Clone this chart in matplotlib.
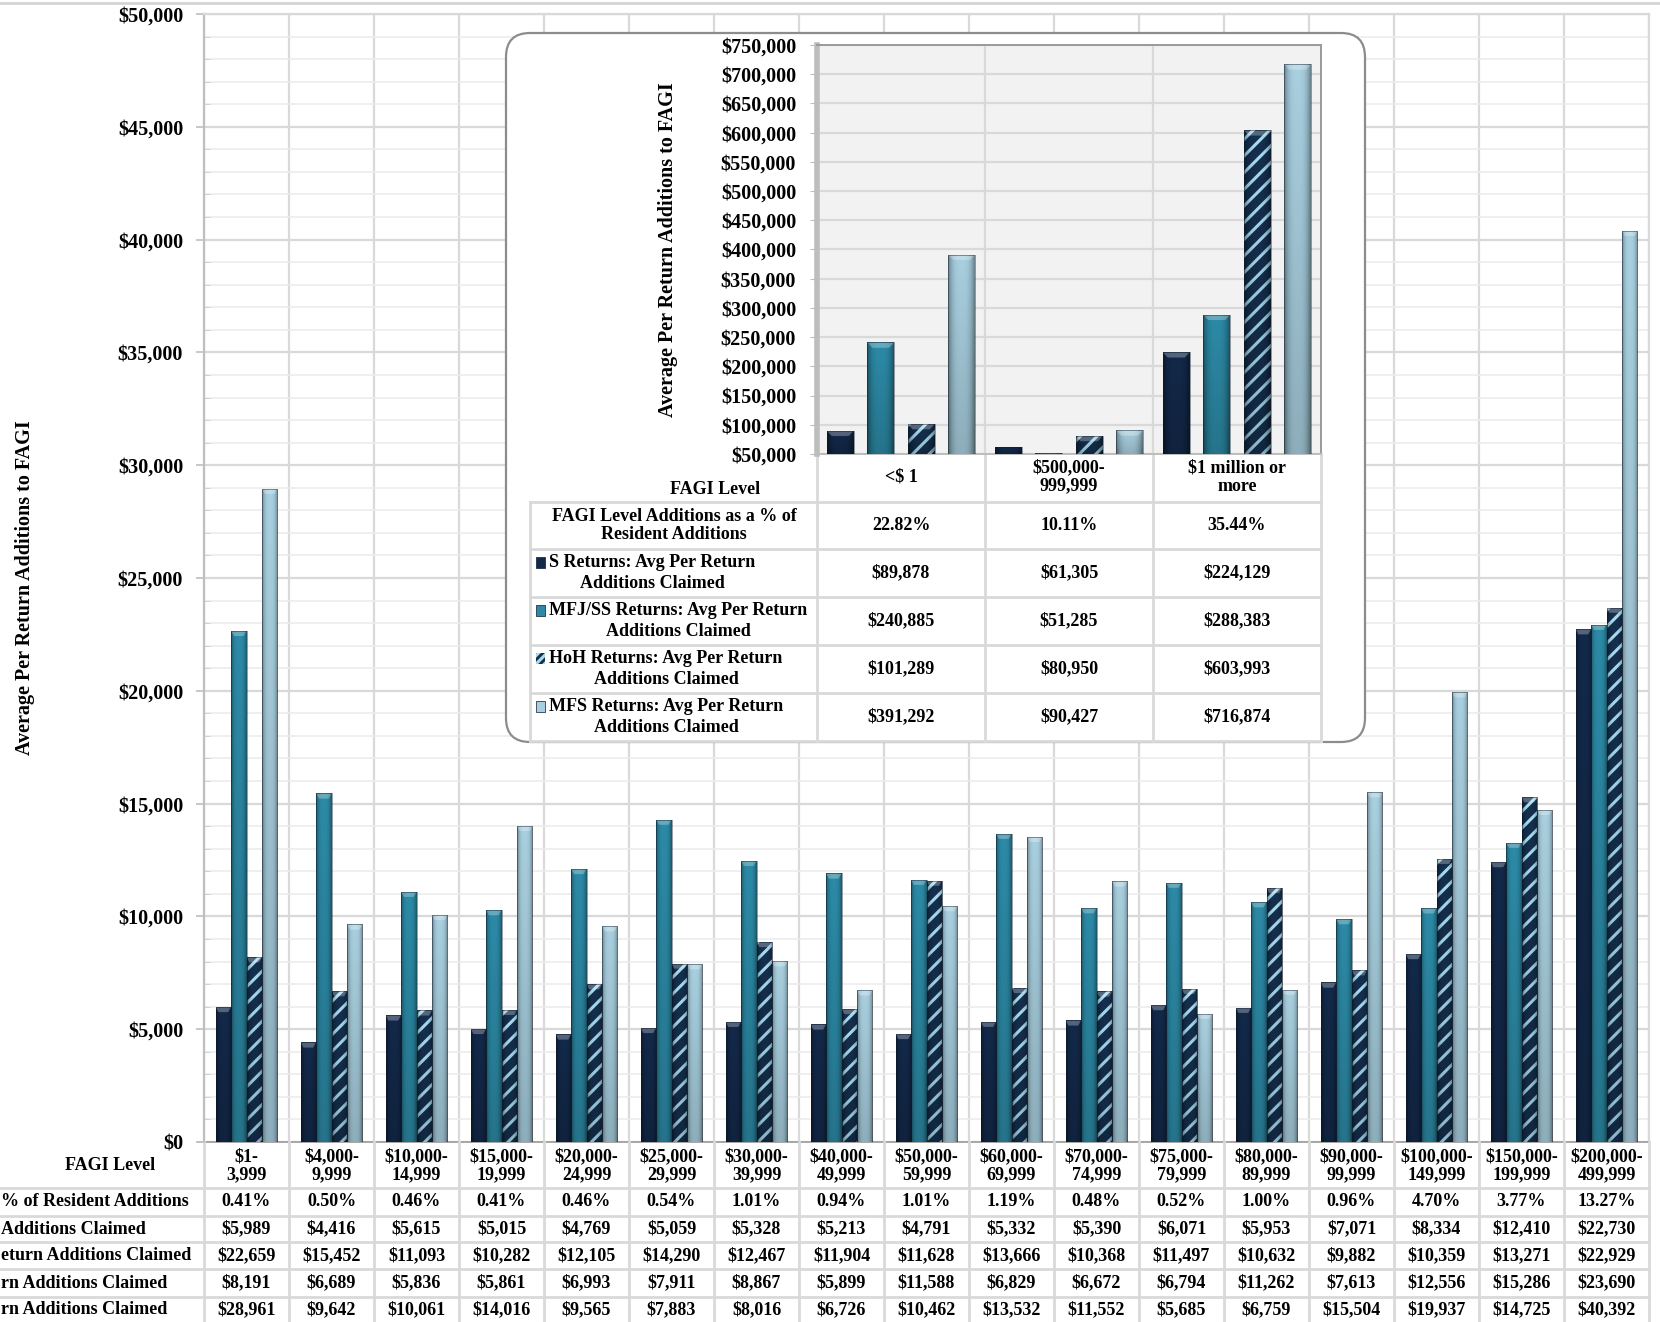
import numpy as np
import matplotlib
matplotlib.use('Agg')
import matplotlib.pyplot as plt
from matplotlib.patches import FancyBboxPatch, Rectangle, Polygon
from matplotlib.ticker import MultipleLocator, FuncFormatter

plt.rcParams['font.family'] = ['Liberation Serif', 'DejaVu Serif']
plt.rcParams['font.weight'] = 'bold'
plt.rcParams['text.parse_math'] = False
plt.rcParams['hatch.linewidth'] = 2.2

# ---- data: main chart (resident returns by FAGI level) ----
fagi_levels = ['$1-\n3,999', '$4,000-\n9,999', '$10,000-\n14,999', '$15,000-\n19,999',
               '$20,000-\n24,999', '$25,000-\n29,999', '$30,000-\n39,999', '$40,000-\n49,999',
               '$50,000-\n59,999', '$60,000-\n69,999', '$70,000-\n74,999', '$75,000-\n79,999',
               '$80,000-\n89,999', '$90,000-\n99,999', '$100,000-\n149,999', '$150,000-\n199,999',
               '$200,000-\n499,999']
pct_of_additions = [0.41, 0.50, 0.46, 0.41, 0.46, 0.54, 1.01, 0.94, 1.01, 1.19, 0.48, 0.52,
                    1.00, 0.96, 4.70, 3.77, 13.27]
s_returns = [5989, 4416, 5615, 5015, 4769, 5059, 5328, 5213, 4791, 5332, 5390, 6071, 5953,
             7071, 8334, 12410, 22730]
mfj_returns = [22659, 15452, 11093, 10282, 12105, 14290, 12467, 11904, 11628, 13666, 10368,
               11497, 10632, 9882, 10359, 13271, 22929]
hoh_returns = [8191, 6689, 5836, 5861, 6993, 7911, 8867, 5899, 11588, 6829, 6672, 6794, 11262,
               7613, 12556, 15286, 23690]
mfs_returns = [28961, 9642, 10061, 14016, 9565, 7883, 8016, 6726, 10462, 13532, 11552, 5685,
               6759, 15504, 19937, 14725, 40392]
# row labels as they show at the cropped left edge of the picture
row_labels_visible = ['% of Resident Additions', 'Additions Claimed', 'eturn Additions Claimed',
                      'rn Additions Claimed', 'rn Additions Claimed']

# ---- data: inset chart ----
inset_levels = ['<$ 1', '$500,000-\n999,999', '$1 million or\nmore']
inset_pct = [22.82, 10.11, 35.44]
inset_s = [89878, 61305, 224129]
inset_mfj = [240885, 51285, 288383]
inset_hoh = [101289, 80950, 603993]
inset_mfs = [391292, 90427, 716874]
inset_row_labels = [('FAGI Level Additions as a % of', 'Resident Additions'),
                    ('S Returns: Avg Per Return', 'Additions Claimed'),
                    ('MFJ/SS Returns: Avg Per Return', 'Additions Claimed'),
                    ('HoH Returns: Avg Per Return', 'Additions Claimed'),
                    ('MFS Returns: Avg Per Return', 'Additions Claimed')]

S_C, MFJ_C, HOH_C, HATCH_C, MFS_C = '#13294a', '#2c8aa6', '#152f4e', '#a9dcef', '#a8cfdf'
GRID = '#d9d9d9'
W, H = 1660, 1322
MAIN = (204, 14, 1649, 1142)
INSET = (817, 45, 1321, 454)


def px_rect(x0, y0, x1, y1):
    return [x0 / W, 1 - y1 / H, (x1 - x0) / W, (y1 - y0) / H]


def money(v, pos=None):
    return '${:,.0f}'.format(v)


# bevel shading: darker at the sides, a little darker towards the bottom
hx = np.abs(np.linspace(-1, 1, 40))[None, :]
vy = np.linspace(0, 1, 30)[:, None]
shade = np.zeros((30, 40, 4))
shade[..., 3] = np.clip(0.38 * hx ** 3 + 0.16 * vy, 0, 1)


def shaded_bars(a, xs, vals, w, color, hatch=None, base=0, cap=0):
    for x, v in zip(xs, vals):
        b = a.bar(x, v - base, w, bottom=base, color=color, linewidth=0, zorder=3)[0]
        if hatch:
            b.set_hatch(hatch)
            b.set_edgecolor(HATCH_C)
        im = a.imshow(shade, extent=(x - w / 2, x + w / 2, base, v), aspect='auto',
                      interpolation='bilinear', zorder=3.1)
        im.set_clip_path(b)
        if v - base > 2 * cap:
            a.add_patch(Polygon([(x - w / 2, v), (x + w / 2, v), (x + w * 0.32, v - cap),
                                 (x - w * 0.32, v - cap)], closed=True, facecolor='white',
                                alpha=0.28, linewidth=0, zorder=3.15))
        a.bar(x, v - base, w, bottom=base, fill=False, edgecolor='#0b1a2e', linewidth=0.6,
              alpha=0.5, zorder=3.2)


fig = plt.figure(figsize=(16.6, 13.22), dpi=100)

# ---------------- main chart ----------------
ax = fig.add_axes(px_rect(*MAIN), zorder=1)
n = len(fagi_levels)
x = np.arange(n)
bw = 0.182
series = [(s_returns, S_C, None), (mfj_returns, MFJ_C, None),
          (hoh_returns, HOH_C, '//'), (mfs_returns, MFS_C, None)]
for i, (vals, c, h) in enumerate(series):
    shaded_bars(ax, x + (i - 1.5) * bw, vals, bw, c, h, cap=230)

ax.set_xlim(-0.5, n - 0.5)
ax.set_ylim(0, 50000)
ax.set_yticks(np.arange(0, 50001, 5000))
ax.yaxis.set_minor_locator(MultipleLocator(1000))
ax.yaxis.set_major_formatter(FuncFormatter(money))
ax.set_xticks(np.arange(-0.5, n, 1))
ax.set_xticklabels([])
ax.tick_params(axis='x', length=0)
ax.tick_params(axis='y', which='major', length=6, width=1.2, color='#bfbfbf', pad=9,
               labelsize=14.5)
ax.tick_params(axis='y', which='minor', direction='in', length=4, color='#cccccc')
ax.grid(axis='y', which='major', color=GRID, lw=1.6)
ax.grid(axis='y', which='minor', color='#ececec', lw=1.2)
ax.grid(axis='x', which='major', color=GRID, lw=1.6)
ax.set_axisbelow(True)
for sp in ['top', 'right']:
    ax.spines[sp].set_color(GRID)
    ax.spines[sp].set_linewidth(1.6)
ax.spines['left'].set_color('#bfbfbf')
ax.spines['left'].set_linewidth(1.6)
ax.spines['bottom'].set_color('#a6a6a6')
ax.spines['bottom'].set_linewidth(1.4)

# ---------------- overlay (pixel space) ----------------
ov = fig.add_axes([0, 0, 1, 1], zorder=2)
ov.set_xlim(0, W)
ov.set_ylim(H, 0)
ov.axis('off')
ov.patch.set_alpha(0)

ov.plot([0, W], [3, 3], color='#d4d4d4', lw=2)
ov.text(25, 588, 'Average Per Return Additions to FAGI', rotation=90, ha='center',
        va='center', fontsize=14.5)

# main data table
col_w = (MAIN[2] - MAIN[0]) / n
col_edges = MAIN[0] + np.arange(n + 1) * col_w
col_mid = col_edges[:-1] + col_w / 2
row_lines = [1188, 1216, 1242, 1269, 1297]
row_mid = [1202, 1229, 1256, 1283, 1310]
for yl in row_lines:
    ov.plot([0, MAIN[2]], [yl, yl], color=GRID, lw=2)
for xe in col_edges:
    ov.plot([xe, xe], [MAIN[3], H], color=GRID, lw=2)
ov.plot([MAIN[0] - 6, MAIN[0]], [MAIN[3], MAIN[3]], color='#bfbfbf', lw=1.2)
ov.text(110, 1166, 'FAGI Level', ha='center', va='center', fontsize=13)
for cx, lab in zip(col_mid, fagi_levels):
    ov.text(cx, 1166, lab, ha='center', va='center', fontsize=13, linespacing=1.1)
table_rows = [['{:.2f}%'.format(p) for p in pct_of_additions],
              [money(v) for v in s_returns], [money(v) for v in mfj_returns],
              [money(v) for v in hoh_returns], [money(v) for v in mfs_returns]]
for ym, lab, vals in zip(row_mid, row_labels_visible, table_rows):
    ov.text(1, ym, lab, ha='left', va='center', fontsize=13)
    for cx, s in zip(col_mid, vals):
        ov.text(cx, ym, s, ha='center', va='center', fontsize=13)

# inset frame
ov.add_patch(FancyBboxPatch((506, 33), 859, 709, boxstyle='round,pad=0,rounding_size=24',
                            facecolor='white', edgecolor='#8c8c8c', lw=1.6, zorder=1))
ov.text(668, 250, 'Average Per Return Additions to FAGI', rotation=90, ha='center',
        va='center', fontsize=14.5, zorder=3)

# inset data table
in_w = (INSET[2] - INSET[0]) / 3
in_edges = INSET[0] + np.arange(4) * in_w
in_mid = in_edges[:-1] + in_w / 2
in_rows = [454, 502, 549, 597, 645, 693, 741]
for yl in in_rows[1:]:
    ov.plot([530, INSET[2]], [yl, yl], color=GRID, lw=2, zorder=2)
for xe in in_edges:
    ov.plot([xe, xe], [INSET[3], 741], color=GRID, lw=2, zorder=2)
ov.plot([530, 530], [502, 741], color=GRID, lw=2, zorder=2)
ov.text(715, 489, 'FAGI Level', ha='center', va='center', fontsize=13, zorder=3)
for cx, lab in zip(in_mid, inset_levels):
    ov.text(cx, 477, lab, ha='center', va='center', fontsize=13, linespacing=1.1, zorder=3)

inset_vals = [['{:.2f}%'.format(p) for p in inset_pct],
              [money(v) for v in inset_s], [money(v) for v in inset_mfj],
              [money(v) for v in inset_hoh], [money(v) for v in inset_mfs]]
keys = [None, (S_C, None), (MFJ_C, None), (HOH_C, '////'), (MFS_C, None)]
renderer = fig.canvas.get_renderer()
for r, ((l1, l2), vals, key) in enumerate(zip(inset_row_labels, inset_vals, keys)):
    ym = (in_rows[r + 1] + in_rows[r + 2]) / 2
    if key is None:
        ov.text(674, ym, l1 + '\n' + l2, ha='center', va='center', fontsize=13,
                linespacing=1.1, zorder=3)
    else:
        t1 = ov.text(549, ym - 10.5, l1, ha='left', va='center', fontsize=13, zorder=3)
        x_end = ov.transData.inverted().transform(t1.get_window_extent(renderer))[1][0]
        ov.text((536 + x_end) / 2 + 7, ym + 10.5, l2, ha='center', va='center',
                fontsize=13, zorder=3)
        kc, kh = key
        kp = Rectangle((536, ym - 16), 9, 11, facecolor=kc, edgecolor=HATCH_C if kh else '#0b1a2e',
                       lw=0 if kh else 0.5, hatch=kh, zorder=3)
        ov.add_patch(kp)
    for cx, s in zip(in_mid, vals):
        ov.text(cx, ym, s, ha='center', va='center', fontsize=13, zorder=3)

# ---------------- inset chart ----------------
axi = fig.add_axes(px_rect(*INSET), zorder=3)
axi.set_facecolor('#f2f2f2')
xi = np.arange(3)
step, iw = 0.241, 0.16
inset_series = [(inset_s, S_C, None), (inset_mfj, MFJ_C, None),
                (inset_hoh, HOH_C, '//'), (inset_mfs, MFS_C, None)]
for i, (vals, c, h) in enumerate(inset_series):
    shaded_bars(axi, xi + (i - 1.5) * step, vals, iw, c, h, base=50000, cap=9000)
axi.set_xlim(-0.5, 2.5)
axi.set_ylim(50000, 750000)
axi.set_yticks(np.arange(50000, 750001, 50000))
axi.yaxis.set_major_formatter(FuncFormatter(money))
axi.set_xticks([0.5, 1.5])
axi.set_xticklabels([])
axi.tick_params(axis='x', length=0)
axi.tick_params(axis='y', length=5, color='#bfbfbf', pad=10, labelsize=14.5)
axi.grid(axis='both', color=GRID, lw=1.6)
axi.set_axisbelow(True)
for sp in ['top', 'right']:
    axi.spines[sp].set_color('#9a9a9a')
    axi.spines[sp].set_linewidth(1.4)
axi.spines['left'].set_color('#bdbdbd')
axi.spines['left'].set_linewidth(4)
axi.spines['bottom'].set_color('#bdbdbd')
axi.spines['bottom'].set_linewidth(1.4)

fig.savefig('out.png', dpi=100)
